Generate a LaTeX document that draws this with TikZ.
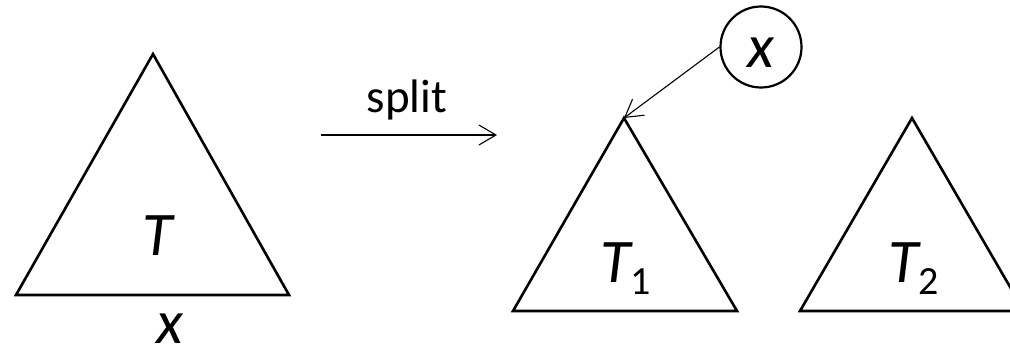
\documentclass[tikz,border=0pt]{standalone}
\usepackage{fontspec}
\setmainfont{Carlito}
\usetikzlibrary{arrows.meta}
\tikzset{
  tri/.style={draw=black, line width=2.6pt, line join=miter},
  thin arrow/.style={draw=black, line width=1.1pt, -{Straight Barb[length=17pt,width=20pt,line width=1.1pt]}},
  biglabel/.style={font=\fontsize{62pt}{62pt}\selectfont\itshape, inner sep=0pt, anchor=base},
  splitlabel/.style={font=\fontsize{47pt}{47pt}\selectfont, inner sep=0pt, anchor=base},
  keycircle/.style={draw=black, line width=2.2pt, circle, minimum size=81pt, inner sep=0pt}
}
\newcommand{\subnum}[1]{\raisebox{-12pt}{\upshape\fontsize{40pt}{40pt}\selectfont #1}}
\begin{document}
\begin{tikzpicture}[x=1pt,y=-1pt]
  \useasboundingbox (0,0) rectangle (1010,348);
  \clip (0,0) rectangle (1010,348);
  % big tree T
  \coordinate (ttop) at (153,54);
  \coordinate (tl) at (16,295);
  \coordinate (tr) at (289,295);
  \draw[tri] (ttop) -- (tl) -- (tr) -- cycle;
  \node[biglabel] (tlab) at (158,255) {T};
  \node[biglabel] (xlab) at (170,343) {x};
  % split arrow
  \coordinate (sa) at (321,135);
  \coordinate (sb) at (497,135);
  \draw[thin arrow] (sa) -- (sb);
  \node[splitlabel] (split) at (407,112) {split};
  % T1
  \coordinate (t1top) at (624,118);
  \coordinate (t1l) at (513,311);
  \coordinate (t1r) at (737,311);
  \draw[tri] (t1top) -- (t1l) -- (t1r) -- cycle;
  \node[biglabel, anchor=base west] (t1lab) at (600,282) {T\subnum{1}};
  % T2
  \coordinate (t2top) at (912,118);
  \coordinate (t2l) at (800,311);
  \coordinate (t2r) at (1024,311);
  \draw[tri] (t2top) -- (t2l) -- (t2r) -- cycle;
  \node[biglabel, anchor=base west] (t2lab) at (888,282) {T\subnum{2}};
  % key x
  \node[keycircle] (xc) at (761,47) {};
  \node[biglabel] (xin) at (761,67) {x};
  \draw[thin arrow] (xc.west) -- (t1top);
\end{tikzpicture}
\end{document}
